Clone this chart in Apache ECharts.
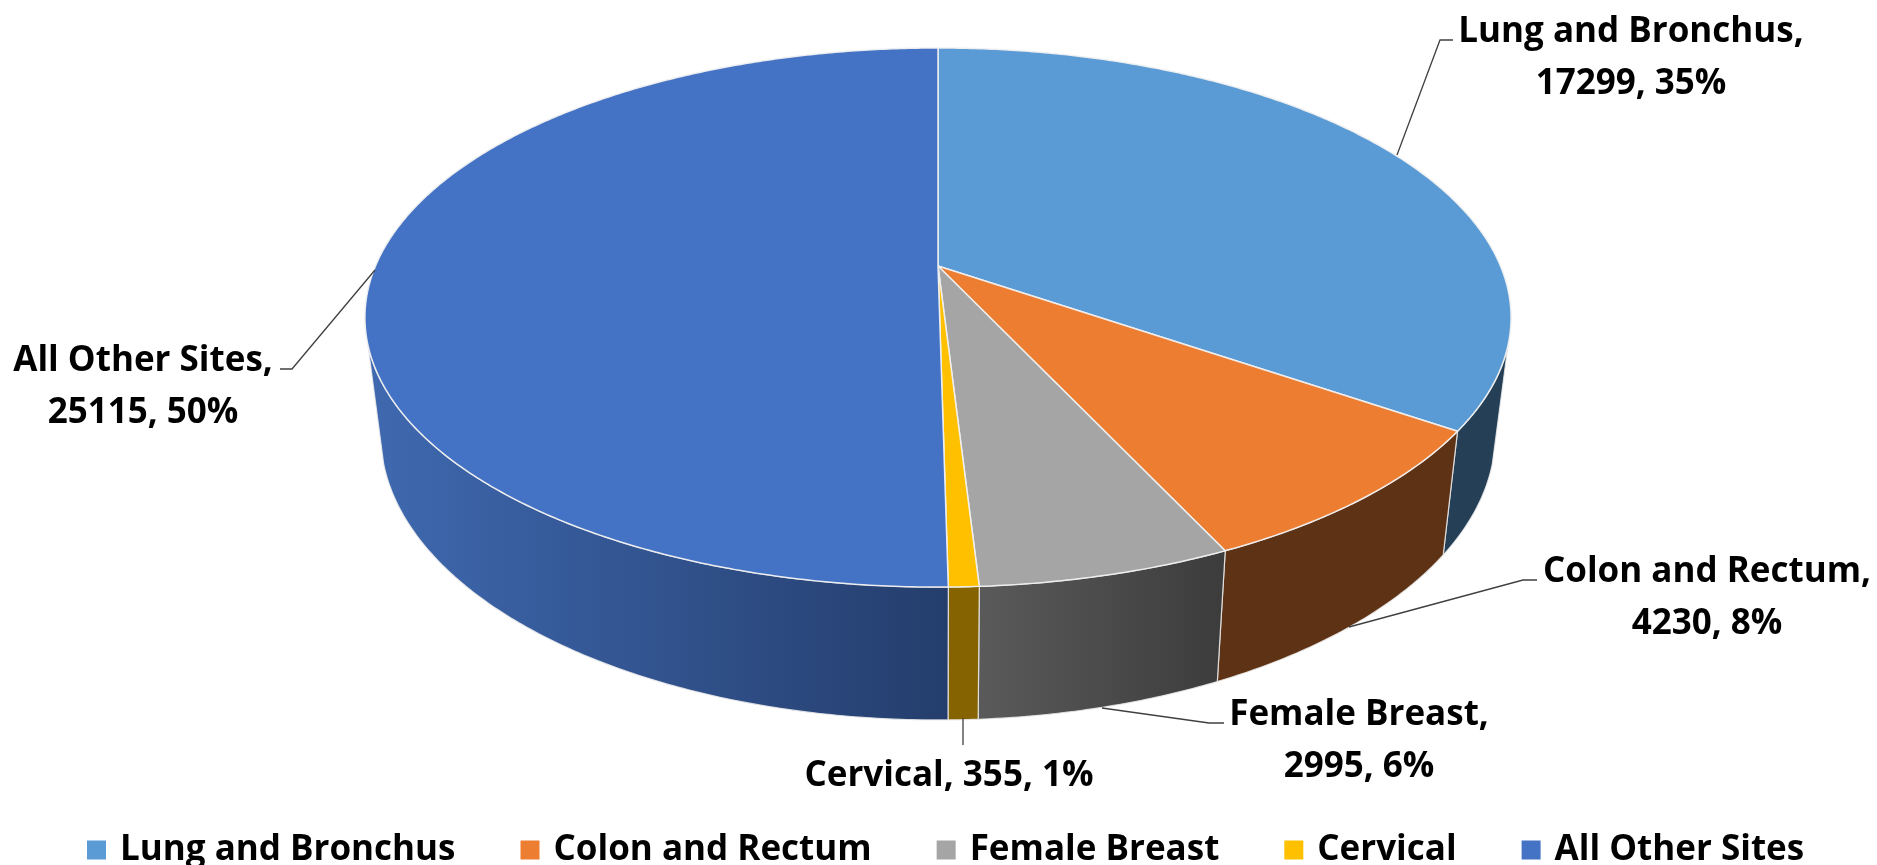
<!DOCTYPE html>
<html><head><meta charset="utf-8">
<style>html,body{margin:0;padding:0;background:#fff}#c{width:1877px;height:865px}</style>
<script src="https://cdn.jsdelivr.net/npm/echarts@6/dist/echarts.min.js"></script>
</head><body><div id="c"></div>
<script>
const categories = ['Lung and Bronchus','Colon and Rectum','Female Breast','Cervical','All Other Sites'];
const values = [17299,4230,2995,355,25115];
const topColors = ['#5B9BD5','#ED7D31','#A5A5A5','#FFC000','#4472C4'];
const sideStart = ['#243F56','#5E3214','#5A5A5A','#856300','#3F69B0'];
const sideEnd   = ['#243F56','#5E3214','#3C3C3C','#856300','#243D6C'];
const labelCenters = [[1631,58],[1707,598],[1359,741],[949,776],[143,387]];
const leaderPaths = [
  [[1397,155],[1440,40],[1453,40]],
  [[1349,627],[1523,580],[1537,580]],
  [[1102,708],[1209,723],[1224,723]],
  [[963,718],[963,745]],
  [[375,270],[292,369],[280,369]]
];
const FONT = '"Open Sans"';
const total = values.reduce((a,b)=>a+b,0);
// perspective projection of the pie disc: top rim and bottom rim
const rimTop = {cx:938, cy:266, a:562.5, b:259.7, k:-0.1911};
const rimBottom = {cx:938, cy:380, a:547, b:275, k:-0.1911};
const SIDE_FROM = 106.7, SIDE_TO = 253.3;
function project(rim, deg){
  const t = deg*Math.PI/180, X = Math.sin(t), Y = -Math.cos(t), w = 1 + rim.k*Y;
  return [rim.cx + rim.a*X/w, rim.cy + rim.b*Y/w];
}
function arc(rim, d0, d1){
  const n = Math.max(2, Math.ceil(Math.abs(d1-d0)*2)), pts = [];
  for(let i=0;i<=n;i++) pts.push(project(rim, d0+(d1-d0)*i/n));
  return pts;
}
function makeRender(idx){
  return function(params, api){
    const v = api.value(0);
    let before = 0;
    for(let i=0;i<idx;i++) before += values[i];
    const d0 = before/total*360, d1 = (before+v)/total*360;
    const children = [];
    const s0 = Math.max(d0, SIDE_FROM), s1 = Math.min(d1, SIDE_TO);
    if(s1 > s0){
      const pts = arc(rimTop, s0, s1).concat(arc(rimBottom, s1, s0));
      const xs = pts.map(p=>p[0]);
      children.push({type:'polygon', z2:1, shape:{points:pts}, style:{
        fill:new echarts.graphic.LinearGradient(Math.min(...xs),0,Math.max(...xs),0,
          [{offset:0,color:sideStart[idx]},{offset:1,color:sideEnd[idx]}],true),
        stroke:'rgba(235,235,235,0.85)', lineWidth:1.2, lineJoin:'round'}});
    }
    const face = [[rimTop.cx, rimTop.cy]].concat(arc(rimTop, d0, d1));
    children.push({type:'polygon', z2:5, shape:{points:face}, style:{
      fill:topColors[idx], stroke:'rgba(240,240,240,0.95)', lineWidth:1.5, lineJoin:'round'}});
    children.push({type:'polyline', z2:8, shape:{points:leaderPaths[idx]}, style:{
      fill:'none', stroke:'#404040', lineWidth:1.3}});
    const pct = Math.round(v/total*100);
    const name = categories[idx];
    const text = idx===3 ? `${name}, ${v}, ${pct}%` : `${name},\n${v}, ${pct}%`;
    children.push({type:'text', z2:10, style:{
      text, x:labelCenters[idx][0], y:labelCenters[idx][1],
      align:'center', verticalAlign:'middle', textAlign:'center', textVerticalAlign:'middle',
      font:`bold 35px ${FONT}`, lineHeight:52, fill:'#000'}});
    return {type:'group', children};
  };
}
const chart = echarts.init(document.getElementById('c'), null, {renderer:'canvas'});
chart.setOption({
  animation:false,
  backgroundColor:'#fff',
  legend:{
    show:true, left:87, top:830, padding:0, icon:'rect', itemWidth:19, itemHeight:19, itemGap:65,
    selectedMode:false, data:categories,
    textStyle:{fontFamily:FONT, fontWeight:'bold', fontSize:35, lineHeight:40, color:'#000', padding:[0,0,0,9]}
  },
  series: categories.map((name,i)=>({
    type:'custom', name, coordinateSystem:'none', silent:true,
    itemStyle:{color:topColors[i]},
    data:[[values[i]]],
    renderItem:makeRender(i)
  }))
});
</script></body></html>
